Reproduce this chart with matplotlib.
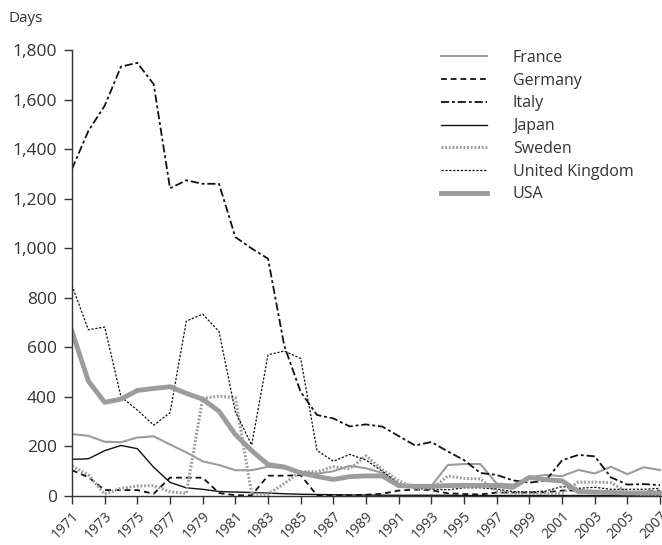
import numpy as np
import matplotlib
matplotlib.use('Agg')
import matplotlib.pyplot as plt

plt.rcParams['font.family'] = ['Open Sans', 'DejaVu Sans']

years = list(range(1971, 2008))

france = [250, 243, 219, 217, 236, 241, 208, 176, 140, 125, 104, 104, 118, 112, 98, 90, 100, 122, 112, 93,
          48, 40, 40, 125, 129, 129, 50, 46, 76, 85, 80, 105, 91, 118, 88, 116, 105]
germany = [104, 76, 24, 24, 24, 9, 74, 74, 74, 12, 3, 3, 82, 82, 84, 3, 3, 3, 5, 9,
           22, 26, 23, 11, 8, 6, 14, 14, 14, 15, 22, 22, 20, 16, 16, 17, 22]
italy = [1320, 1473, 1575, 1733, 1748, 1662, 1242, 1274, 1260, 1260, 1045, 999, 958, 605, 420, 327, 313, 281, 289, 280,
         242, 204, 218, 180, 145, 93, 85, 63, 54, 62, 144, 166, 160, 75, 46, 48, 44]
japan = [148, 150, 183, 204, 191, 116, 55, 33, 27, 18, 16, 14, 12, 9, 7, 6, 5, 4, 4, 3,
         3, 3, 3, 3, 2, 2, 2, 2, 2, 2, 2, 2, 2, 2, 2, 2, 2]
sweden = [121, 85, 8, 31, 40, 42, 17, 11, 394, 403, 397, 8, 7, 51, 98, 98, 118, 110, 162, 107,
          62, 30, 27, 81, 71, 69, 20, 13, 11, 11, 11, 56, 56, 54, 15, 3, 3]
uk = [850, 671, 682, 400, 347, 286, 336, 706, 734, 664, 340, 206, 570, 585, 555, 184, 140, 168, 145, 100,
      50, 32, 28, 25, 33, 33, 28, 18, 16, 20, 38, 31, 35, 27, 27, 27, 31]
usa = [664, 464, 378, 391, 426, 434, 441, 414, 391, 342, 248, 183, 127, 117, 93, 79, 67, 78, 81, 81,
       42, 39, 39, 42, 43, 43, 42, 35, 75, 66, 61, 18, 16, 14, 12, 12, 12]

gray = '#9c9c9c'

fig = plt.figure(figsize=(6.62, 5.45), dpi=100)
ax = fig.add_axes([72/662, 1 - 496/545, 1 - 72/662, (496 - 50)/545])

ax.plot(years, france, color=gray, lw=1.5, label='France')
ax.plot(years, germany, color='#111111', lw=1.3, linestyle=(0, (3.2, 2.2)), label='Germany')
ax.plot(years, italy, color='#111111', lw=1.3, linestyle=(0, (4.5, 1.6, 1.6, 1.6)), label='Italy')
ax.plot(years, japan, color='#111111', lw=1.0, label='Japan')
ax.plot(years, sweden, color=gray, lw=2.2, linestyle=(0, (0.6, 0.6)), label='Sweden')
ax.plot(years, uk, color='#111111', lw=0.9, linestyle=(0, (1.8, 1.3)), label='United Kingdom')
ax.plot(years, usa, color=gray, lw=3.5, label='USA')

ax.set_xlim(1971, 2007.12)
ax.set_ylim(0, 1800)
ax.set_yticks(range(0, 1801, 200))
ax.set_yticklabels(['{:,}'.format(v) for v in range(0, 1801, 200)], fontsize=12.5, color='#333333')
ax.set_xticks(years[::2])
ax.set_xticklabels([str(y) for y in years[::2]], rotation=45, ha='right',
                   rotation_mode='anchor', fontsize=10, color='#333333')

for s in ['top', 'right']:
    ax.spines[s].set_visible(False)
for s in ['left', 'bottom']:
    ax.spines[s].set_color('#333333')
    ax.spines[s].set_linewidth(1.0)
ax.tick_params(direction='out', length=6, width=1, color='#333333')
ax.tick_params(axis='y', pad=5)
ax.tick_params(axis='x', pad=3)

fig.text(8/662, 1 - 18/545, 'Days', fontsize=11, color='#333333', va='center', ha='left')

ax.legend(loc='upper left', bbox_to_anchor=(441/662, 1 - 50/545), bbox_transform=fig.transFigure,
          frameon=False, fontsize=11.5, handlelength=2.9, handletextpad=1.6, labelspacing=0.42,
          borderaxespad=0, borderpad=0, labelcolor='#333333')

fig.savefig('out.png', dpi=100)
